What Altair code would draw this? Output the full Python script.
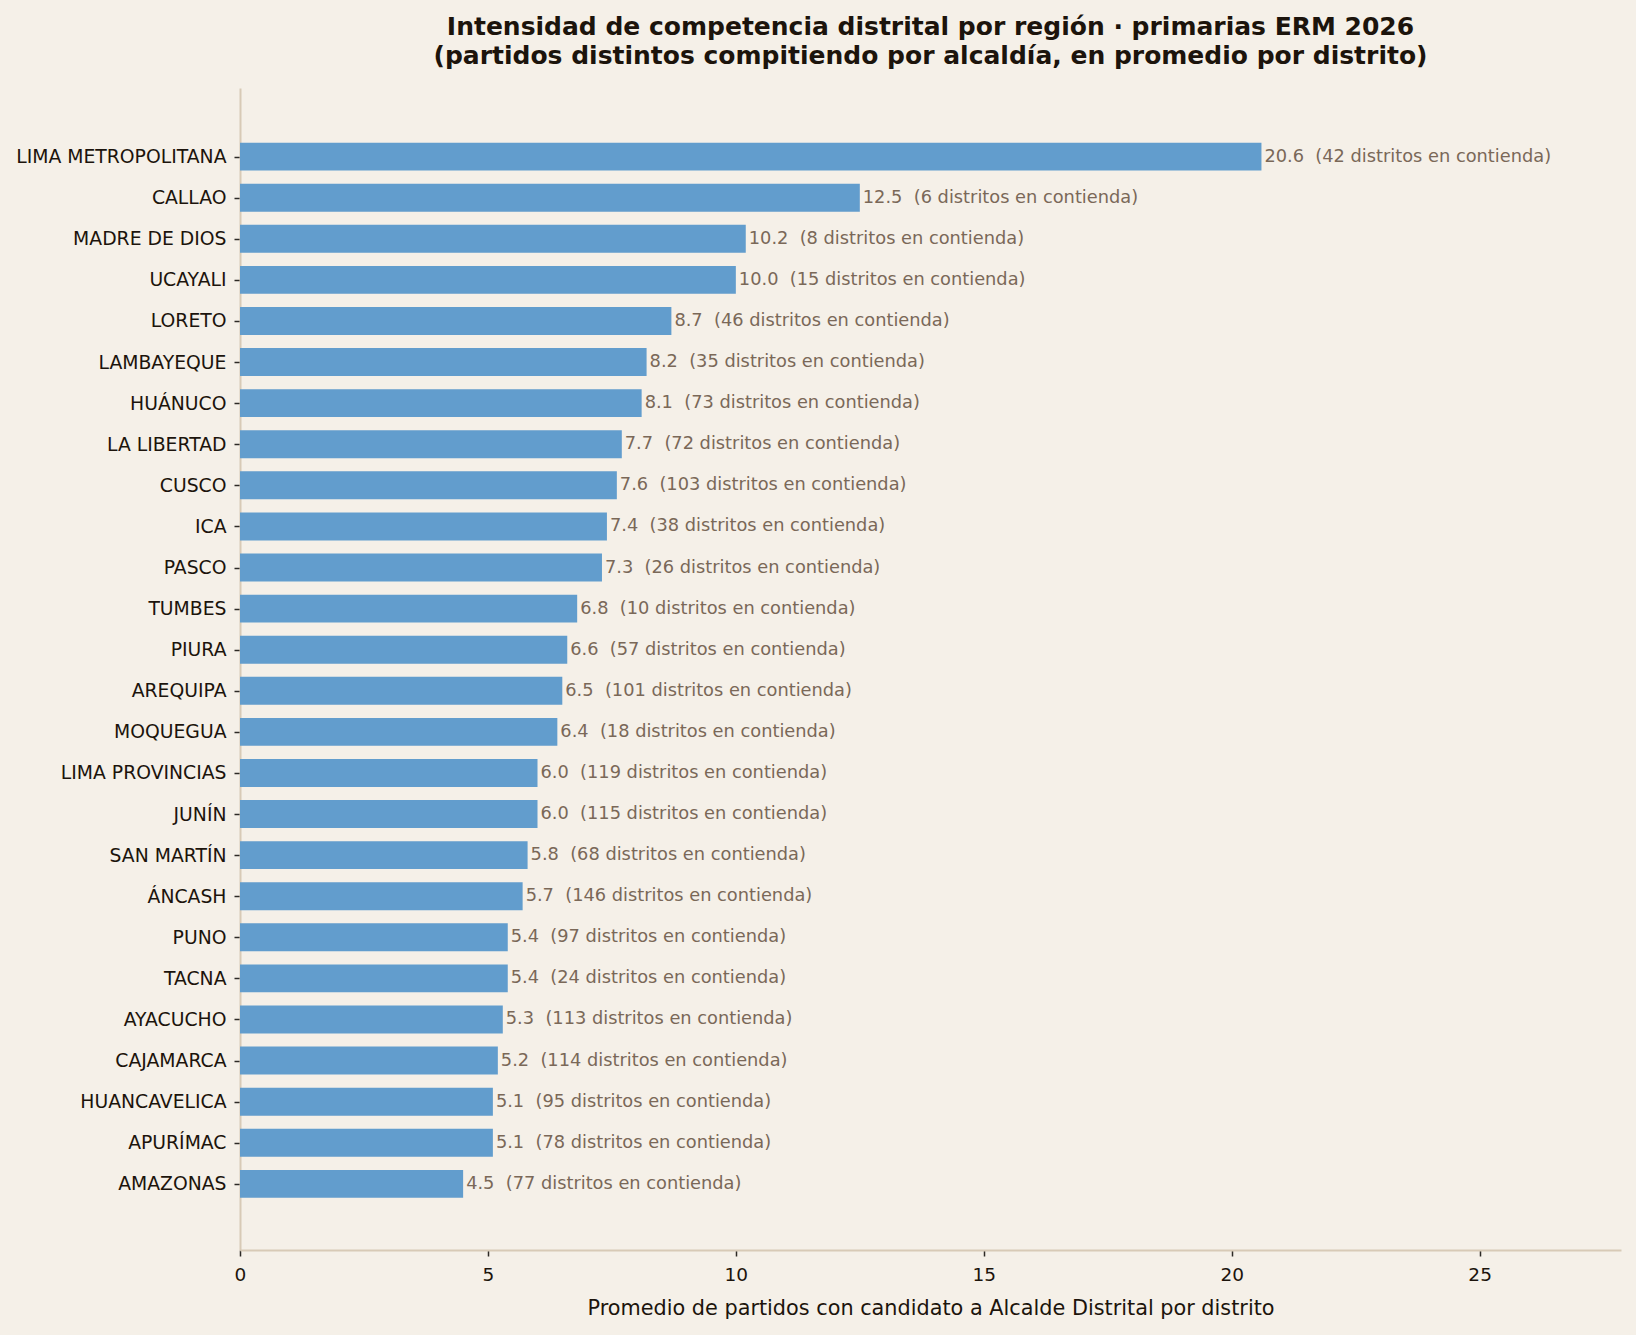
import json

import altair as alt
import pandas as pd

# Average number of distinct parties running for district mayor, by region
regiones = [
    "LIMA METROPOLITANA", "CALLAO", "MADRE DE DIOS", "UCAYALI", "LORETO",
    "LAMBAYEQUE", "HUÁNUCO", "LA LIBERTAD", "CUSCO", "ICA", "PASCO",
    "TUMBES", "PIURA", "AREQUIPA", "MOQUEGUA", "LIMA PROVINCIAS", "JUNÍN",
    "SAN MARTÍN", "ÁNCASH", "PUNO", "TACNA", "AYACUCHO", "CAJAMARCA",
    "HUANCAVELICA", "APURÍMAC", "AMAZONAS",
]
promedio = [
    20.6, 12.5, 10.2, 10.0, 8.7, 8.2, 8.1, 7.7, 7.6, 7.4, 7.3,
    6.8, 6.6, 6.5, 6.4, 6.0, 6.0, 5.8, 5.7, 5.4, 5.4, 5.3, 5.2,
    5.1, 5.1, 4.5,
]
distritos = [
    42, 6, 8, 15, 46, 35, 73, 72, 103, 38, 26,
    10, 57, 101, 18, 119, 115, 68, 146, 97, 24, 113, 114,
    95, 78, 77,
]
x_ticks = [0, 5, 10, 15, 20, 25]

df = pd.DataFrame({
    "region": regiones,
    "pos": list(range(len(regiones))),
    "promedio": promedio,
    "distritos": distritos,
})
df["etiqueta"] = [
    f"{v:.1f}\u00a0 ({n} distritos en contienda)" for v, n in zip(promedio, distritos)
]

FONT = "DejaVu Sans"
BG = "#f5f0e8"
BAR = "#629dcd"
SPINE = "#d8cab6"
INK = "#1c140c"
NOTE = "#7a6858"

BAR_H = 0.68
n = len(regiones)
# row positions run top to bottom; leave a band of space above and below
y_domain = [-1.67, n - 1 + 1.61]
x_max = max(promedio) * 1.352

y_scale = alt.Scale(domain=y_domain, reverse=True, nice=False, zero=False, padding=0)
x_scale = alt.Scale(domain=[0, x_max], nice=False, zero=True, padding=0)

label_expr = json.dumps(regiones, ensure_ascii=False) + "[datum.value]"

y_axis = alt.Axis(
    title=None,
    values=list(range(n)),
    labelExpr=label_expr,
    labelFont=FONT,
    labelFontSize=18.8,
    labelColor=INK,
    labelPadding=8,
    labelLimit=400,
    labelFlush=False,
    tickColor="#2d2a26",
    tickSize=6,
    tickWidth=1.5,
    domainColor=SPINE,
    domainWidth=2,
    grid=False,
)

x_axis = alt.Axis(
    values=x_ticks,
    format="d",
    title="Promedio de partidos con candidato a Alcalde Distrital por distrito",
    titleFont=FONT,
    titleFontSize=20.8,
    titleFontWeight="normal",
    titleColor=INK,
    titlePadding=15,
    labelFont=FONT,
    labelFontSize=18.5,
    labelColor=INK,
    labelPadding=9,
    labelFlush=False,
    tickColor="#2d2a26",
    tickSize=6,
    tickWidth=1.5,
    domainColor=SPINE,
    domainWidth=2,
    grid=False,
)

base = alt.Chart(df).transform_calculate(
    y_top=f"datum.pos - {BAR_H / 2}",
    y_bot=f"datum.pos + {BAR_H / 2}",
)

bars = base.mark_bar(color=BAR, orient="horizontal").encode(
    x=alt.X("promedio:Q", scale=x_scale, axis=x_axis),
    x2=alt.datum(0),
    y=alt.Y("y_top:Q", scale=y_scale, axis=y_axis),
    y2="y_bot:Q",
)

labels = base.mark_text(
    align="left",
    baseline="middle",
    dx=3,
    font=FONT,
    fontSize=17.8,
    color=NOTE,
).encode(
    x=alt.X("promedio:Q", scale=x_scale),
    y=alt.Y("pos:Q", scale=y_scale),
    text="etiqueta:N",
)

chart = (
    alt.layer(bars, labels)
    .properties(
        width=1381,
        height=1162,
        background=BG,
        padding={"left": 240, "top": 88, "right": 15, "bottom": 85},
        autosize=alt.AutoSizeParams(type="none"),
        title=alt.TitleParams(
            text=[
                "Intensidad de competencia distrital por región · primarias ERM 2026",
                "(partidos distintos compitiendo por alcaldía, en promedio por distrito)",
            ],
            font=FONT,
            fontSize=25,
            fontWeight="bold",
            color=INK,
            lineHeight=29.5,
            anchor="middle",
            offset=19,
        ),
    )
    .configure_view(stroke=None)
)

chart.save("out.html", embed_options={"renderer": "svg", "actions": False})
